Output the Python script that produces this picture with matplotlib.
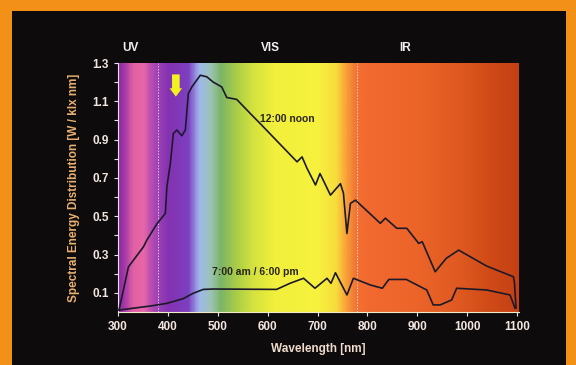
import numpy as np
import matplotlib
matplotlib.use('Agg')
import matplotlib.pyplot as plt
from matplotlib.colors import LinearSegmentedColormap
from matplotlib.patches import Rectangle

plt.rcParams['font.family'] = ['Liberation Sans', 'DejaVu Sans']

# 12:00 noon curve
noon_wl = [302, 321, 351, 358, 378, 395, 398, 405, 411, 418, 428, 435, 441, 448,
           465, 478, 491, 508, 518, 538, 565, 585, 659, 669, 679, 696, 705, 726,
           746, 752, 759, 766, 776, 826, 836, 859, 879, 903, 910, 936, 958, 983,
           1039, 1093, 1095, 1098]
noon_val = [0.01, 0.236, 0.34, 0.376, 0.46, 0.515, 0.654, 0.776, 0.932, 0.95,
            0.92, 0.95, 1.14, 1.175, 1.236, 1.228, 1.20, 1.175, 1.12, 1.11,
            1.037, 0.984, 0.784, 0.81, 0.75, 0.663, 0.723, 0.61, 0.67, 0.62,
            0.41, 0.567, 0.584, 0.463, 0.49, 0.437, 0.437, 0.358, 0.367, 0.21,
            0.28, 0.323, 0.24, 0.184, 0.15, 0.02]

# 7:00 am / 6:00 pm curve
morning_wl = [302, 331, 364, 398, 431, 451, 471, 491, 618, 645, 672, 695, 719,
              727, 736, 759, 772, 806, 830, 843, 878, 919, 932, 946, 969, 979,
              1039, 1086, 1096]
morning_val = [0.01, 0.02, 0.031, 0.045, 0.07, 0.098, 0.118, 0.12, 0.118, 0.15,
               0.176, 0.124, 0.176, 0.15, 0.205, 0.089, 0.176, 0.141, 0.124,
               0.17, 0.17, 0.115, 0.037, 0.037, 0.063, 0.124, 0.115, 0.089, 0.02]

# background spectrum colours
spec_wl = [300, 312, 328, 350, 362, 380, 400, 440, 462, 485, 505, 535, 570,
           615, 700, 738, 758, 778, 800, 900, 980, 1050, 1105]
spec_col = ['#8e2a9e', '#a83aa8', '#e060a4', '#e868a8', '#c050b0', '#9a40b4',
            '#8432b2', '#7c40c0', '#a0b8ee', '#9cc4b4', '#7cb468', '#a6cc48',
            '#d4e23e', '#f2f03c', '#f6f23e', '#f8dc3c', '#f8a03a', '#f27232',
            '#f26a30', '#ec6428', '#e05a22', '#d04a18', '#c44014']

region_names = ['UV', 'VIS', 'IR']
region_pos = [324, 605, 875]

fig = plt.figure(figsize=(5.76, 3.65), dpi=100, facecolor='#f29018')
fig.patches.append(Rectangle((12 / 576, 0), 554 / 576, 354 / 365,
                             transform=fig.transFigure, facecolor='#0e0b0c',
                             edgecolor='none', zorder=-10))

ax = fig.add_axes([118 / 576, 53 / 365, 401 / 576, 249 / 365])
ax.set_zorder(1)
ax.set_xlim(300, 1104)
ax.set_ylim(0, 1.3)

pos = [(w - spec_wl[0]) / (spec_wl[-1] - spec_wl[0]) for w in spec_wl]
cmap = LinearSegmentedColormap.from_list('spec', list(zip(pos, spec_col)))
grad = np.linspace(0, 1, 600).reshape(1, -1)
ax.imshow(grad, cmap=cmap, aspect='auto', extent=[300, 1105, 0, 1.3], zorder=0)

for xv in [380, 780]:
    ax.axvline(xv, color='#f4e8f0', lw=0.7, ls=(0, (1.5, 1.5)), alpha=0.8, zorder=1)

ax.plot(noon_wl, noon_val, color='#1c1a2a', lw=1.2, zorder=3)
ax.plot(morning_wl, morning_val, color='#1c1a2a', lw=1.2, zorder=3)

ax.text(585, 1.01, '12:00 noon', fontsize=7.5, fontweight='bold',
        color='#2a2418', va='center', ha='left', zorder=4)
ax.text(488, 0.21, '7:00 am / 6:00 pm', fontsize=7.5, fontweight='bold',
        color='#2a2418', va='center', ha='left', zorder=4)

ax.annotate('', xy=(416, 1.11), xytext=(416, 1.255),
            arrowprops=dict(arrowstyle='simple,head_width=0.9,head_length=0.6,tail_width=0.55',
                            fc='#f2f21e', ec='none', mutation_scale=10),
            zorder=5)

for name, xp in zip(region_names, region_pos):
    ax.text(xp, 1.06, name, transform=ax.get_xaxis_transform(), fontsize=8.5,
            fontweight='bold', color='#f4f0f0', ha='center', va='center')

ax.set_xticks(range(300, 1101, 100))
ax.set_yticks([0.1, 0.3, 0.5, 0.7, 0.9, 1.1, 1.3])
ax.set_yticks([0.2, 0.4, 0.6, 0.8, 1.0, 1.2], minor=True)
ax.set_yticklabels(['0.1', '0.3', '0.5', '0.7', '0.9', '1.1', '1.3'])
ax.tick_params(axis='both', which='both', direction='out', colors='#dfe4f4',
               labelcolor='#f2e6e0', labelsize=8.5, length=3, width=0.8)
for lab in ax.get_xticklabels() + ax.get_yticklabels():
    lab.set_fontweight('bold')

for s in ['top', 'right']:
    ax.spines[s].set_visible(False)
ax.spines['bottom'].set_color('#f0ecc8')
ax.spines['left'].set_color('#dfe4f4')

ax.set_xlabel('Wavelength [nm]', fontsize=8.5, fontweight='bold', color='#f0dccc',
              labelpad=7)
ax.set_ylabel('Spectral Energy Distribution [W / klx nm]', fontsize=8.5,
              fontweight='bold', color='#e8b070', labelpad=9)

fig.savefig('out.png', dpi=100, facecolor=fig.get_facecolor())
